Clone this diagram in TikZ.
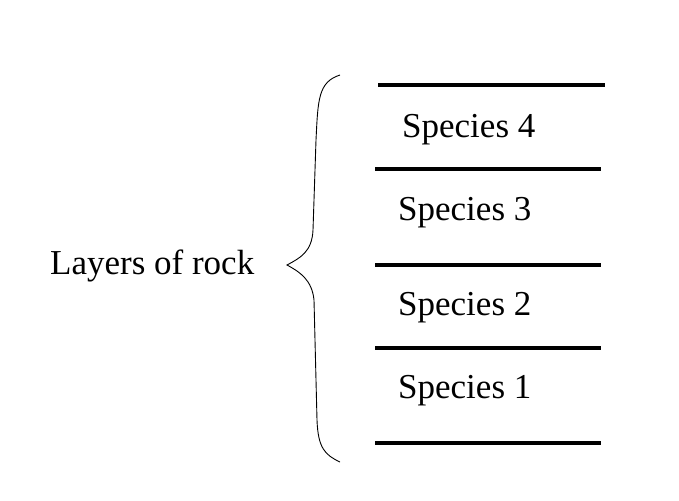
\documentclass[tikz,border=0pt]{standalone}
\usepackage{fontspec}
\setmainfont{Liberation Serif}
\begin{document}
\begin{tikzpicture}[x=1pt,y=-1pt,
  layer/.style={line width=3.5pt},
  lbl/.style={font=\fontsize{35}{40}\selectfont,anchor=west,inner sep=0}]
\useasboundingbox (0,0) rectangle (679,500);
\coordinate (a1) at (378,85); \coordinate (b1) at (605,85);
\coordinate (a2) at (375,169); \coordinate (b2) at (601,169);
\coordinate (a3) at (375,265); \coordinate (b3) at (601,265);
\coordinate (a4) at (375,348); \coordinate (b4) at (601,348);
\coordinate (a5) at (375,443); \coordinate (b5) at (601,443);
\foreach \i in {1,...,5} \draw[layer] (a\i) -- (b\i);
\node[lbl] (s4) at (402,130) {Species 4};
\node[lbl] (s3) at (398,213) {Species 3};
\node[lbl] (s2) at (398,308) {Species 2};
\node[lbl] (s1) at (398,391) {Species 1};
\node[lbl] (L) at (50,266) {Layers of rock};
\coordinate (top) at (340,75); \coordinate (tip) at (287,265); \coordinate (bot) at (340,462);
\draw[line width=0.9pt] (top) .. controls (318,82) and (318,100) .. (316,140)
  -- (313,230) .. controls (312,252) and (300,258) .. (tip)
  .. controls (300,272) and (312,280) .. (314,300)
  -- (317,420) .. controls (318,448) and (325,455) .. (bot);
\end{tikzpicture}
\end{document}
